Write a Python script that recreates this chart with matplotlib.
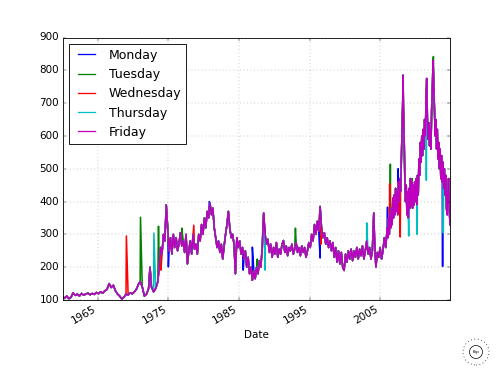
import matplotlib
matplotlib.use("Agg")
import matplotlib.pyplot as plt
from matplotlib.patches import Ellipse

plt.style.use("classic")

# Friday series (decimal year, value)
fri_years = [
    1960.0, 1960.3, 1960.6, 1960.9, 1961.2, 1961.5, 1961.8, 1962.1, 1962.4, 1962.7,
    1963.0, 1963.3, 1963.6, 1963.9, 1964.2, 1964.5, 1964.8, 1965.1, 1965.4, 1965.7,
    1966.0, 1966.3, 1966.6, 1966.9, 1967.2, 1967.5, 1967.8, 1968.1, 1968.4, 1968.7,
    1969.0, 1969.3, 1969.6, 1969.9, 1970.2, 1970.5, 1970.8, 1971.0, 1971.3, 1971.6,
    1971.9, 1972.2, 1972.4, 1972.6, 1972.9, 1973.2, 1973.5, 1973.7, 1973.9, 1974.1,
    1974.3, 1974.5, 1974.7, 1974.9, 1975.1, 1975.3, 1975.5, 1975.7, 1975.9, 1976.1,
    1976.3, 1976.5, 1976.7, 1976.9, 1977.1, 1977.3, 1977.5, 1977.7, 1977.9, 1978.1,
    1978.3, 1978.5, 1978.7, 1978.9, 1979.1, 1979.3, 1979.5, 1979.7, 1979.9, 1980.1,
    1980.3, 1980.5, 1980.7, 1980.9, 1981.1, 1981.3, 1981.5, 1981.7, 1981.9, 1982.1,
    1982.3, 1982.5, 1982.7, 1982.9, 1983.1, 1983.3, 1983.5, 1983.7, 1983.9, 1984.1,
    1984.3, 1984.5, 1984.7, 1984.9, 1985.1, 1985.3, 1985.5, 1985.7, 1985.9, 1986.1,
    1986.3, 1986.5, 1986.7, 1986.9, 1987.1, 1987.3, 1987.5, 1987.7, 1987.9, 1988.1,
    1988.3, 1988.5, 1988.7, 1988.9, 1989.1, 1989.3, 1989.5, 1989.7, 1989.9, 1990.1,
    1990.3, 1990.5, 1990.7, 1990.9, 1991.1, 1991.3, 1991.5, 1991.7, 1991.9, 1992.1,
    1992.3, 1992.5, 1992.7, 1992.9, 1993.1, 1993.3, 1993.5, 1993.7, 1993.9, 1994.1,
    1994.3, 1994.5, 1994.7, 1994.9, 1995.1, 1995.3, 1995.5, 1995.7, 1995.9, 1996.1,
    1996.3, 1996.5, 1996.7, 1996.9, 1997.1, 1997.3, 1997.5, 1997.7, 1997.9, 1998.1,
    1998.3, 1998.5, 1998.7, 1998.9, 1999.1, 1999.3, 1999.5, 1999.7, 1999.9, 2000.1,
    2000.3, 2000.5, 2000.7, 2000.9, 2001.1, 2001.3, 2001.5, 2001.7, 2001.9, 2002.1,
    2002.3, 2002.5, 2002.7, 2002.9, 2003.1, 2003.3, 2003.5, 2003.7, 2003.9, 2004.1,
    2004.2, 2004.4, 2004.6, 2004.8, 2005.0, 2005.2, 2005.4, 2005.6, 2005.8,
    2006.0, 2006.1, 2006.2, 2006.3, 2006.4, 2006.5, 2006.6, 2006.7, 2006.8, 2006.9,
    2007.0, 2007.1, 2007.2, 2007.3, 2007.4, 2007.5, 2007.6, 2007.7, 2007.8, 2007.9,
    2008.0, 2008.1, 2008.2, 2008.25, 2008.3, 2008.4, 2008.5, 2008.6, 2008.7, 2008.8,
    2008.9, 2009.0, 2009.1, 2009.2, 2009.3, 2009.4, 2009.5, 2009.6, 2009.7, 2009.8,
    2009.9, 2010.0, 2010.1, 2010.2, 2010.3, 2010.4, 2010.5, 2010.6, 2010.7, 2010.8,
    2010.9, 2011.0, 2011.1, 2011.2, 2011.3, 2011.4, 2011.5, 2011.6, 2011.7, 2011.8,
    2011.9, 2012.0, 2012.1, 2012.2, 2012.3, 2012.4, 2012.5, 2012.6, 2012.7, 2012.8,
    2012.9, 2013.0, 2013.1, 2013.2, 2013.3, 2013.4, 2013.5, 2013.6, 2013.7, 2013.8,
    2013.9, 2014.0, 2014.1, 2014.2, 2014.3, 2014.4, 2014.5, 2014.6, 2014.7, 2014.8,
    2014.9,
]
fri_values = [
    110, 106, 112, 104, 108, 122, 114, 118, 112, 120,
    115, 118, 121, 116, 120, 117, 123, 119, 125, 121,
    128, 132, 150, 138, 145, 128, 118, 112, 103, 108,
    118, 115, 122, 119, 125, 134, 150, 156, 140, 112,
    118, 135, 200, 140, 125, 135, 155, 200, 260, 240,
    300, 280, 390, 320, 250, 290, 240, 300, 260, 290,
    250, 270, 305, 265, 280, 245, 300, 210, 250, 280,
    240, 300, 255, 270, 240, 300, 280, 330, 300, 350,
    320, 370, 350, 395, 360, 380, 320, 290, 260, 280,
    245, 270, 225, 265, 300, 330, 370, 320, 290, 300,
    270, 180, 290, 260, 280, 240, 260, 225, 250, 200,
    230, 180, 200, 160, 190, 165, 200, 180, 220, 200,
    260, 365, 300, 270, 285, 245, 270, 230, 260, 240,
    275, 230, 255, 240, 270, 280, 245, 265, 235, 260,
    250, 270, 240, 255, 275, 245, 260, 235, 265, 245,
    260, 230, 250, 275, 260, 300, 280, 330, 300, 340,
    310, 385, 320, 290, 305, 270, 290, 260, 280, 250,
    275, 230, 260, 215, 250, 210, 245, 200, 190, 240,
    215, 250, 225, 255, 220, 250, 230, 260, 225, 255,
    235, 265, 225, 250, 280, 240, 260, 225, 250, 365,
    290, 200, 245, 230, 260, 225, 250, 290, 260,
    320, 290, 350, 300, 360, 320, 380, 330, 410, 350,
    420, 360, 440, 370, 430, 360, 460, 400, 470, 430,
    520, 600, 700, 785, 690, 600, 470, 400, 450, 360,
    430, 350, 440, 380, 470, 390, 460, 380, 450, 390,
    460, 400, 470, 390, 480, 420, 530, 480, 580, 520,
    600, 540, 620, 560, 650, 600, 700, 775, 650, 590,
    640, 570, 620, 560, 680, 740, 830, 760, 680, 600,
    650, 560, 620, 530, 580, 500, 560, 470, 540, 460,
    520, 440, 500, 420, 480, 380, 360, 430, 470, 380,
    330,
]

# Spikes where other weekdays differ from Friday
mon_years = [1975.0, 1980.8, 1985.6, 1986.9, 1991.3, 1996.5, 2006.05, 2007.55, 2013.85]
mon_values = [201, 400, 191, 261, 282, 228, 383, 500, 202]
tue_years = [1971.05, 1973.6, 1976.9, 1987.6, 1993.0, 2006.45, 2009.55, 2012.55]
tue_values = [352, 325, 319, 225, 319, 514, 470, 842]
wed_years = [1969.05, 1973.95, 1978.6, 1996.6, 2006.35, 2007.85]
wed_values = [295, 191, 328, 270, 454, 292]
thu_years = [1972.95, 1988.7, 2003.1, 2009.05, 2010.25, 2011.55, 2013.95]
thu_values = [304, 191, 335, 295, 300, 465, 305]

day_names = ["Monday", "Tuesday", "Wednesday", "Thursday", "Friday"]
day_colors = ["#0000ff", "#008000", "#ff0000", "#00bfbf", "#bf00bf"]
tick_years = [1965, 1975, 1985, 1995, 2005]


def merged(extra_years, extra_values):
    pts = sorted(list(zip(fri_years, fri_values)) + list(zip(extra_years, extra_values)))
    return [p[0] for p in pts], [p[1] for p in pts]


series = [
    merged(mon_years, mon_values),
    merged(tue_years, tue_values),
    merged(wed_years, wed_values),
    merged(thu_years, thu_values),
    (fri_years, fri_values),
]

fig = plt.figure(figsize=(8, 6), dpi=62.5, facecolor="white")
ax = fig.add_subplot(111)
for (xs, ys), name, col in zip(series, day_names, day_colors):
    ax.plot(xs, ys, color=col, label=name, lw=1.8)

ax.set_xlim(fri_years[0], fri_years[-1])
ax.set_ylim(100, 900)
ax.set_xticks(tick_years)
ax.set_xticklabels([str(y) for y in tick_years])
ax.grid(True, color="0.5")
ax.set_xlabel("Date")
leg = ax.legend(loc="upper left")
for ln in leg.get_lines():
    ln.set_linewidth(1.5)
fig.autofmt_xdate()

# small watermark logo
fig.add_artist(Ellipse((476 / 500, 1 - 352 / 375), 26 / 500, 26 / 375,
                       transform=fig.transFigure, fill=False, lw=0.8,
                       ls=":", ec="black"))
fig.add_artist(Ellipse((476 / 500, 1 - 352 / 375), 13 / 500, 13 / 375,
                       transform=fig.transFigure, fill=False, lw=0.8, ec="black"))
fig.text(476 / 500, 1 - 352 / 375, "flip", fontsize=5, ha="center", va="center")

fig.savefig("out.png", dpi=62.5, facecolor="white")
